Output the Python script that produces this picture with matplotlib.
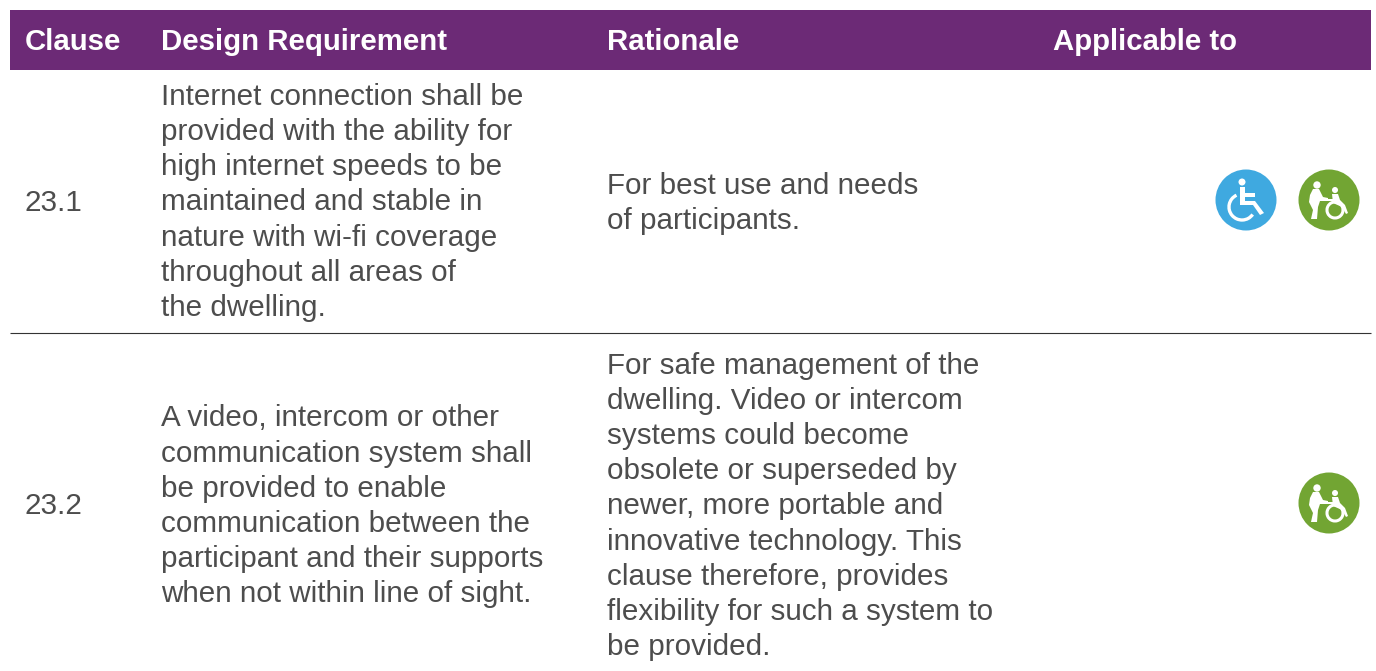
import matplotlib
matplotlib.use("Agg")
import matplotlib.pyplot as plt
from matplotlib.patches import Circle, Rectangle, Arc, Polygon

plt.rcParams['font.family'] = ['Liberation Sans', 'DejaVu Sans']

headers = ["Clause", "Design Requirement", "Rationale", "Applicable to"]
clauses = ["23.1", "23.2"]
requirements = [
    ["Internet connection shall be", "provided with the ability for", "high internet speeds to be",
     "maintained and stable in", "nature with wi-fi coverage", "throughout all areas of", "the dwelling."],
    ["A video, intercom or other", "communication system shall", "be provided to enable",
     "communication between the", "participant and their supports", "when not within line of sight."],
]
rationales = [
    ["For best use and needs", "of participants."],
    ["For safe management of the", "dwelling. Video or intercom", "systems could become",
     "obsolete or superseded by", "newer, more portable and", "innovative technology. This",
     "clause therefore, provides", "flexibility for such a system to", "be provided."],
]
applicable = [["user", "carer"], ["carer"]]

W, H = 1376, 671
PURPLE = "#6c2a76"
BLUE = "#3fa9e0"
GREEN = "#72a533"
TEXT = "#4d4d4d"
LINE_H = 35.2
col_x = [25, 161, 607, 1053]
row_mid = [201, 504]
icon_x = {"user": 1246, "carer": 1329}
FS = 21.3
TEXT_DY = 2.5


def shape(ax, cx, cy, pts):
    ax.add_patch(Polygon([(cx + a, cy + b) for a, b in pts], fc="white", ec="none"))


def draw_user(ax, cx, cy):
    ax.add_patch(Circle((cx, cy), 30.5, fc=BLUE, ec="none"))
    ax.add_patch(Circle((cx - 4, cy - 18), 3.5, fc="white", ec="none"))
    ax.add_patch(Arc((cx - 4, cy + 7), 26, 26, theta1=35, theta2=245, lw=2.4, color="white"))
    shape(ax, cx, cy, [(-6, -13), (-1, -13), (-1, -7), (9, -7), (9, -3), (-1, -3), (-1, 1), (9, 1),
                       (18, 13), (14, 15), (7, 5), (-6, 5)])


def draw_carer(ax, cx, cy):
    ax.add_patch(Circle((cx, cy), 30.5, fc=GREEN, ec="none"))
    ax.add_patch(Circle((cx - 12, cy - 15), 3.7, fc="white", ec="none"))
    shape(ax, cx, cy, [(-19, -5), (-16, -11), (-10, -11), (-6, -3), (-1, -2), (-1, 1), (-9, 1), (-11, 7),
                       (-12, 19), (-18, 19), (-16, 10), (-20, 2)])
    ax.add_patch(Circle((cx + 6, cy - 10), 3, fc="white", ec="none"))
    ax.add_patch(Arc((cx + 6, cy + 10), 16, 16, theta1=0, theta2=360, lw=2.2, color="white"))
    shape(ax, cx, cy, [(3, -6), (9, -6), (11, 0), (16, 5), (19, 13), (17, 14), (13, 7), (4, 3)])
    shape(ax, cx, cy, [(-6, -1), (4, -1), (4, 1), (-6, 1)])


def draw_lines(ax, x, mid, lines):
    top = mid - LINE_H * (len(lines) - 1) / 2
    for i, line in enumerate(lines):
        ax.text(x, top + i * LINE_H + TEXT_DY, line, fontsize=FS, color=TEXT, va="center", ha="left")


fig = plt.figure(figsize=(W / 100, H / 100), dpi=100)
ax = fig.add_axes([0, 0, 1, 1])
ax.set_xlim(0, W)
ax.set_ylim(H, 0)
ax.axis("off")

ax.add_patch(Rectangle((10, 10), 1361, 60, fc=PURPLE, ec="none"))
for x, h in zip(col_x, headers):
    ax.text(x, 40 + TEXT_DY - 0.5, h, fontsize=FS - 0.1, fontweight="bold", color="white", va="center", ha="left")

ax.plot([10, 1371], [332.5, 332.5], color="#333333", lw=0.8, solid_capstyle="butt")

for i, clause in enumerate(clauses):
    ax.text(col_x[0], row_mid[i] + TEXT_DY - 0.5, clause, fontsize=FS, color=TEXT, va="center", ha="left")
    draw_lines(ax, col_x[1], row_mid[i] - 1 if i == 0 else row_mid[i], requirements[i])
    draw_lines(ax, col_x[2], row_mid[i], rationales[i])
    for who in applicable[i]:
        if who == "user":
            draw_user(ax, icon_x[who], row_mid[i] - 1)
        else:
            draw_carer(ax, icon_x[who], row_mid[i] - 1)

fig.savefig("out.png", dpi=100)
